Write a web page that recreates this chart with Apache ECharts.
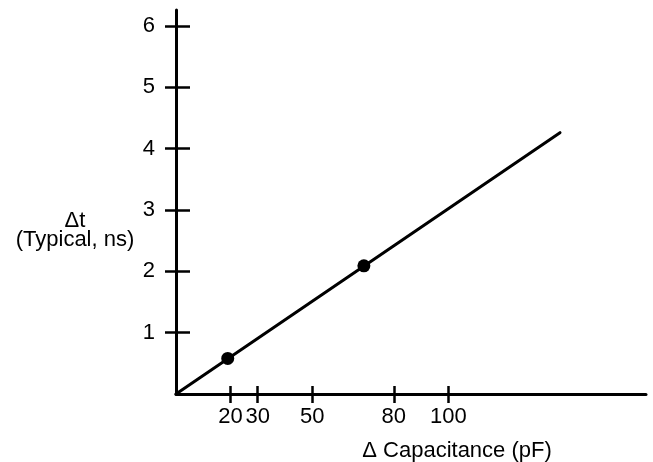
<!DOCTYPE html>
<html>
<head>
<meta charset="utf-8">
<script src="https://cdn.jsdelivr.net/npm/echarts@6/dist/echarts.min.js"></script>
<style>
  html, body { margin: 0; padding: 0; background: #fff; }
  #chart { width: 653px; height: 462px; }
</style>
</head>
<body>
<div id="chart"></div>
<script>
// values
var xTicks = [20, 30, 50, 80, 100];
var yTicks = [1, 2, 3, 4, 5, 6];
var lineData = [[0, 0], [141, 4.26]];
var pointData = [[19, 0.58], [69, 2.09]];
var xTitle = '\u0394 Capacitance (pF)';
var yTitle = '\u0394t\n(Typical, ns)';

var font = 'Liberation Sans, Arial, sans-serif';
var chart = echarts.init(document.getElementById('chart'));

var option = {
    animation: false,
    backgroundColor: '#fff',
    grid: { left: 176, right: 7, top: 10, bottom: 68 },
    xAxis: [
        {
            type: 'value', min: 0, max: 172.6,
            splitLine: { show: false },
            axisLine: { lineStyle: { color: '#000', width: 3 } },
            axisTick: { length: 9, customValues: xTicks, lineStyle: { color: '#000', width: 2.5 } },
            axisLabel: { customValues: xTicks, margin: 12, color: '#000', fontSize: 22, fontFamily: font }
        },
        {
            type: 'value', min: 0, max: 172.6, position: 'bottom',
            splitLine: { show: false },
            axisLine: { show: false },
            axisTick: { inside: true, length: 8, customValues: xTicks, lineStyle: { color: '#000', width: 2.5 } },
            axisLabel: { show: false }
        }
    ],
    yAxis: [
        {
            type: 'value', min: 0, max: 6.26,
            splitLine: { show: false },
            axisLine: { lineStyle: { color: '#000', width: 3 } },
            axisTick: { length: 11, customValues: yTicks, lineStyle: { color: '#000', width: 2.5 } },
            axisLabel: { customValues: yTicks, margin: 21, color: '#000', fontSize: 22, fontFamily: font }
        },
        {
            type: 'value', min: 0, max: 6.26, position: 'left',
            splitLine: { show: false },
            axisLine: { show: false },
            axisTick: { inside: true, length: 14, customValues: yTicks, lineStyle: { color: '#000', width: 2.5 } },
            axisLabel: { show: false }
        }
    ],
    graphic: [
        {
            type: 'text',
            style: { x: 457, y: 451, text: xTitle, fill: '#000', font: '22px ' + font, align: 'center', verticalAlign: 'middle' }
        },
        {
            type: 'text',
            style: { x: 75, y: 230, text: yTitle, fill: '#000', font: '22px ' + font, align: 'center', verticalAlign: 'middle', lineHeight: 19 }
        }
    ],
    series: [
        {
            type: 'line',
            data: lineData,
            showSymbol: false,
            lineStyle: { color: '#000', width: 3, cap: 'round' }
        },
        {
            type: 'scatter',
            data: pointData,
            symbol: 'circle',
            symbolSize: 13,
            itemStyle: { color: '#000', opacity: 1 }
        }
    ]
};

chart.setOption(option);
</script>
</body>
</html>
